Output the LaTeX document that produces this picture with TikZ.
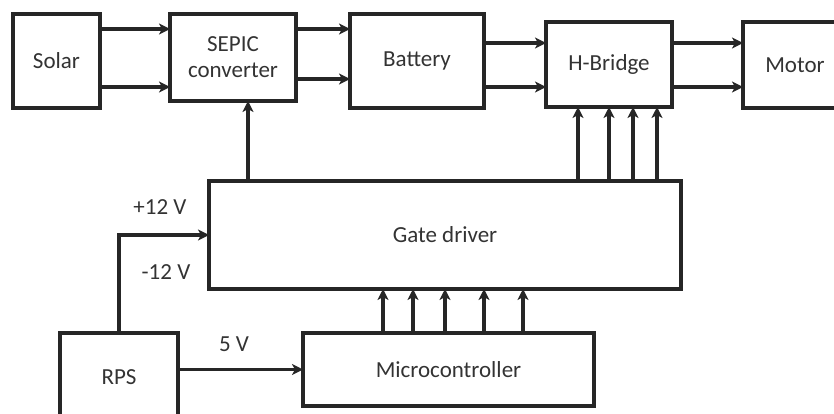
\documentclass[tikz,border=0pt]{standalone}
\usepackage{fontspec}
\setmainfont{Carlito}
\usetikzlibrary{arrows.meta}
\begin{document}
\begin{tikzpicture}[x=1pt,y=-1pt,
  box/.style={draw=black!85, line width=3.2pt, inner sep=0pt, outer sep=0pt, align=center,
    font=\fontsize{23}{26}\selectfont, text=black!80},
  lbl/.style={inner sep=0pt, font=\fontsize{23}{26}\selectfont, text=black!80},
  arr/.style={draw=black!85, line width=3.2pt, -{Stealth[length=11pt,width=11pt,inset=3pt]}}]
\useasboundingbox (0,0) rectangle (834,413);
\clip (0,0) rectangle (834,413);
\node[box, minimum width=87pt, minimum height=94pt] (Solar) at (56.5,61) {Solar};
\node[box, minimum width=126pt, minimum height=87pt] (SEPIC) at (233,57.5) {SEPIC\\converter};
\node[box, minimum width=134pt, minimum height=94pt] (Bat) at (417,61) {Battery};
\node[box, minimum width=126pt, minimum height=85pt] (HB) at (609,64.5) {H-Bridge};
\node[box, minimum width=104pt, minimum height=86pt] (Motor) at (795,65) {Motor};
\node[box, minimum width=472pt, minimum height=108pt] (Gate) at (445,235) {Gate driver};
\node[box, minimum width=118pt, minimum height=89pt] (RPS) at (119,377.5) {RPS};
\node[box, minimum width=291pt, minimum height=73pt] (Micro) at (448.5,369.5) {Microcontroller};
\node[lbl] (p12) at (160,207) {+12 V};
\node[lbl] (m12) at (166,272) {-12 V};
\node[lbl] (v5) at (234,344) {5 V};
% top row
\draw[arr] (Solar.east |- 0,29) -- (SEPIC.west |- 0,29);
\draw[arr] (Solar.east |- 0,87) -- (SEPIC.west |- 0,87);
\draw[arr] (SEPIC.east |- 0,29) -- (Bat.west |- 0,29);
\draw[arr] (SEPIC.east |- 0,79) -- (Bat.west |- 0,79);
\draw[arr] (Bat.east |- 0,43) -- (HB.west |- 0,43);
\draw[arr] (Bat.east |- 0,87) -- (HB.west |- 0,87);
\draw[arr] (HB.east |- 0,43) -- (Motor.west |- 0,43);
\draw[arr] (HB.east |- 0,87) -- (Motor.west |- 0,87);
% gate driver to SEPIC and H-Bridge
\draw[arr] (Gate.north -| 248,0) -- (SEPIC.south -| 248,0);
\foreach \x in {578,609,633,657}
  \draw[arr] (Gate.north -| \x,0) -- (HB.south -| \x,0);
% microcontroller to gate driver
\foreach \x in {383,413,445,484,523}
  \draw[arr] (Micro.north -| \x,0) -- (Gate.south -| \x,0);
% RPS supplies
\draw[arr] (RPS.north) |- (Gate.west);
\draw[arr] (RPS.east |- Micro.west) -- (Micro.west);
\end{tikzpicture}
\end{document}
